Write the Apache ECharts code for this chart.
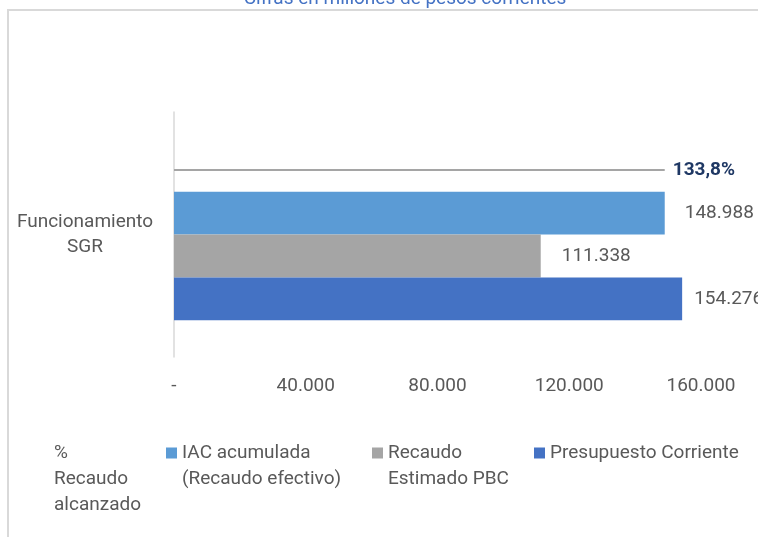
<!DOCTYPE html>
<html>
<head>
<meta charset="utf-8">
<script src="https://cdn.jsdelivr.net/npm/echarts@6/dist/echarts.min.js"></script>
<style>
  html, body { margin: 0; padding: 0; background: #fff; }
  #grafico { width: 758px; height: 537px; }
</style>
</head>
<body>
<div id="grafico"></div>
<script>
// datos
const categorias = ['Funcionamiento\nSGR'];
const iacAcumulada = [148988];
const recaudoEstimado = [111338];
const presupuesto = [154276];
const pctAlcanzado = [133.8];
const ticksEje = [0, 40000, 80000, 120000, 160000];
const etiquetasEje = ['-', '40.000', '80.000', '120.000', '160.000'];

const fuente = 'Roboto';
const gris = '#595959';

function miles (v) {
  return String(v).replace(/\B(?=(\d{3})+(?!\d))/g, '.');
}

let myChart = echarts.init(document.getElementById('grafico'));

// linea fina centrada en su franja (la serie del % se dibuja como linea)
const lineaGris = {
  type: 'linear', x: 0, y: 0, x2: 0, y2: 1,
  colorStops: [
    {offset: 0, color: 'rgba(0,0,0,0)'},
    {offset: 0.475, color: 'rgba(0,0,0,0)'},
    {offset: 0.475, color: '#A5A5A5'},
    {offset: 0.525, color: '#A5A5A5'},
    {offset: 0.525, color: 'rgba(0,0,0,0)'},
    {offset: 1, color: 'rgba(0,0,0,0)'}
  ]
};

const textoLeyenda = {fontFamily: fuente, fontSize: 19, color: gris, lineHeight: 26};

myChart.setOption({
  animation: false,
  title: {
    text: 'Cifras en millones de pesos corrientes',
    left: 405,
    textAlign: 'center',
    top: -10,
    padding: 0,
    textStyle: {fontFamily: fuente, fontSize: 19, fontWeight: 'normal', color: '#4472C4'}
  },
  graphic: [
    {
      type: 'rect',
      shape: {x: 8, y: 10, width: 800, height: 600},
      style: {fill: 'none', stroke: '#D9D9D9', lineWidth: 2},
      silent: true
    }
  ],
  legend: [
    {
      left: 38, top: 388, padding: 0, itemWidth: 11, itemHeight: 11, icon: 'rect',
      data: [{name: '% Recaudo alcanzado', itemStyle: {opacity: 0}}],
      formatter: () => '\n\n%\nRecaudo\nalcanzado',
      textStyle: textoLeyenda
    },
    {
      left: 166, top: 414, padding: 0, itemWidth: 11, itemHeight: 11, icon: 'rect',
      data: ['IAC acumulada (Recaudo efectivo)'],
      formatter: () => '\nIAC acumulada\n(Recaudo efectivo)',
      textStyle: textoLeyenda
    },
    {
      left: 372, top: 414, padding: 0, itemWidth: 11, itemHeight: 11, icon: 'rect',
      data: ['Recaudo Estimado PBC'],
      formatter: () => '\nRecaudo\nEstimado PBC',
      textStyle: textoLeyenda
    },
    {
      left: 534, top: 440, padding: 0, itemWidth: 11, itemHeight: 11, icon: 'rect',
      data: ['Presupuesto Corriente'],
      textStyle: textoLeyenda
    }
  ],
  grid: {
    left: 174,
    right: 57,
    top: 112,
    bottom: 180
  },
  xAxis: {
    type: 'value',
    min: ticksEje[0],
    max: ticksEje[ticksEje.length - 1],
    interval: ticksEje[1] - ticksEje[0],
    axisLine: {show: false},
    axisTick: {show: false},
    splitLine: {show: false},
    axisLabel: {
      margin: 20,
      fontFamily: fuente,
      fontSize: 19,
      color: gris,
      formatter: (v) => etiquetasEje[ticksEje.indexOf(v)]
    }
  },
  yAxis: {
    type: 'category',
    data: categorias,
    axisLine: {show: true, lineStyle: {color: '#D9D9D9', width: 1.5}},
    axisTick: {show: false},
    axisLabel: {
      margin: 89,
      align: 'center',
      fontFamily: fuente,
      fontSize: 19,
      lineHeight: 25,
      color: gris
    }
  },
  series: [
    {
      name: '% Recaudo alcanzado',
      type: 'bar',
      data: iacAcumulada,
      barGap: '0%',
      barCategoryGap: '30%',
      itemStyle: {color: lineaGris},
      label: {
        show: true,
        position: 'right',
        distance: 8,
        fontFamily: fuente,
        fontSize: 19,
        fontWeight: 'bold',
        color: '#1F3864',
        formatter: (p) => String(pctAlcanzado[p.dataIndex]).replace('.', ',') + '%'
      }
    },
    {
      name: 'IAC acumulada (Recaudo efectivo)',
      type: 'bar',
      data: iacAcumulada,
      barGap: '0%',
      barCategoryGap: '30%',
      itemStyle: {color: '#5B9BD5'},
      label: {
        show: true, position: 'right', distance: 20,
        fontFamily: fuente, fontSize: 19, color: gris,
        formatter: (p) => miles(p.value)
      }
    },
    {
      name: 'Recaudo Estimado PBC',
      type: 'bar',
      data: recaudoEstimado,
      barGap: '0%',
      barCategoryGap: '30%',
      itemStyle: {color: '#A5A5A5'},
      label: {
        show: true, position: 'right', distance: 21,
        fontFamily: fuente, fontSize: 19, color: gris,
        formatter: (p) => miles(p.value)
      }
    },
    {
      name: 'Presupuesto Corriente',
      type: 'bar',
      data: presupuesto,
      barGap: '0%',
      barCategoryGap: '30%',
      itemStyle: {color: '#4472C4'},
      label: {
        show: true, position: 'right', distance: 12,
        fontFamily: fuente, fontSize: 19, color: gris,
        formatter: (p) => miles(p.value)
      }
    }
  ]
})
</script>
</body>
</html>
